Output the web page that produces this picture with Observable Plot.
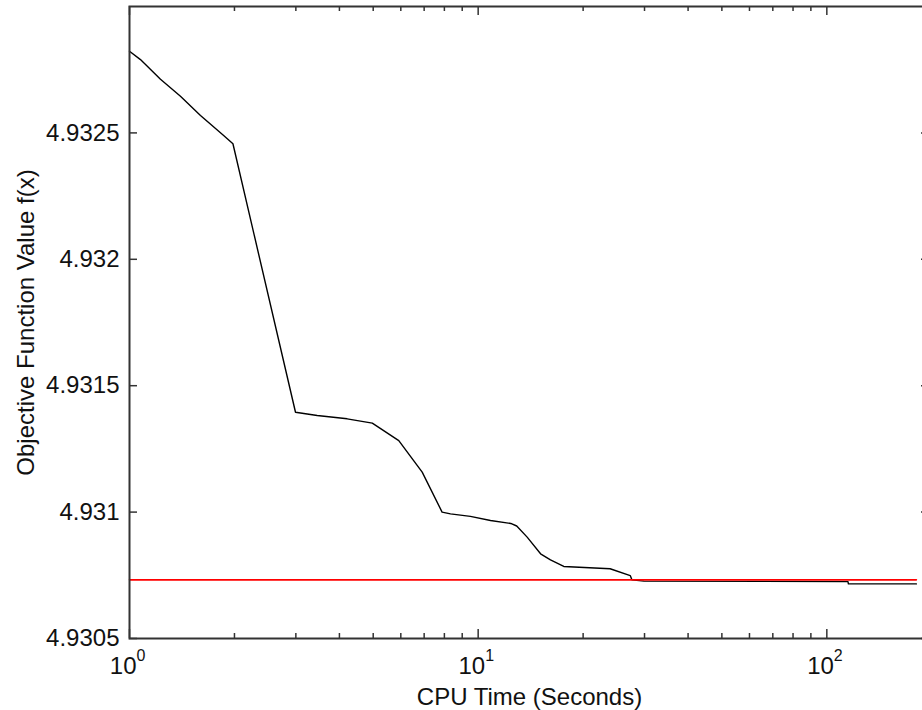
<!DOCTYPE html>
<html><head><meta charset="utf-8">
<script src="https://cdn.jsdelivr.net/npm/d3@7"></script>
<script src="https://cdn.jsdelivr.net/npm/@observablehq/plot@0.6"></script>
<style>
html,body{margin:0;padding:0;background:#fff;overflow:hidden;}
</style></head><body><div id="chart"></div>
<script>
// CPU time (seconds) and objective function value
const cpuTime = [1, 1.075, 1.227, 1.40, 1.598, 1.848, 1.98, 2.993, 3.454, 4.21, 4.97, 5.92, 6.91, 7.88, 8.33, 9.5, 10.85, 12.4, 12.9, 13.82, 15.1, 16.12, 17.6, 23.9, 27.3, 27.6, 29.9, 115, 115.3, 180.7];
const objective = [4.932823, 4.932790, 4.932712, 4.932645, 4.932569, 4.932494, 4.932457, 4.931395, 4.931382, 4.931369, 4.931352, 4.931283, 4.931158, 4.931000, 4.930993, 4.930983, 4.930967, 4.930955, 4.930945, 4.930901, 4.930835, 4.930811, 4.930785, 4.930776, 4.930749, 4.930732, 4.930727, 4.930725, 4.930716, 4.930716];
// reference (red) level
const referenceValue = 4.930732;
const referenceTime = [1, 180.7];
// axes
const xDomain = [1, 197];
const yDomain = [4.9305, 4.933];
const yTicks = [4.9305, 4.931, 4.9315, 4.932, 4.9325];
const xMajorTicks = [1, 10, 100];
const xTickBase = ["10", "10", "10"];
const xTickExponents = ["0", "1", "2"];
const xMinorTicks = [2, 3, 4, 5, 6, 7, 8, 9, 20, 30, 40, 50, 60, 70, 80, 90];
const xLabel = "CPU Time (Seconds)";
const yLabel = "Objective Function Value f(x)";

const W = 922, H = 710;
const mL = 129, mR = -7, mT = 6, mB = 72;
const frameW = W - mL - mR, frameH = H - mT - mB;
const axisColor = "#333";
const textColor = "#111";
const font = "'Liberation Sans', Arial, Helvetica, sans-serif";

const series = cpuTime.map((t, i) => ({t, v: objective[i]}));
const refSeries = referenceTime.map(t => ({t, v: referenceValue}));
const majors = xMajorTicks.map((t, i) => ({t, base: xTickBase[i], exp: xTickExponents[i]}));

const chart = Plot.plot({
  width: W, height: H,
  marginLeft: mL, marginRight: mR, marginTop: mT, marginBottom: mB,
  style: {fontFamily: font, color: "#000", background: "#fff", overflow: "visible"},
  x: {type: "log", domain: xDomain, axis: null},
  y: {domain: yDomain, axis: null},
  marks: [
    Plot.line(series, {x: "t", y: "v", stroke: "#000", strokeWidth: 1.4}),
    Plot.line(refSeries, {x: "t", y: "v", stroke: "#ff0000", strokeWidth: 1.6}),
    // inward ticks: bottom
    Plot.tickX(xMajorTicks, {x: d => d, insetTop: frameH - 9, stroke: axisColor, strokeWidth: 1.5}),
    Plot.tickX(xMinorTicks, {x: d => d, insetTop: frameH - 5, stroke: axisColor, strokeWidth: 1.5}),
    // top
    Plot.tickX(xMajorTicks, {x: d => d, insetBottom: frameH - 9, stroke: axisColor, strokeWidth: 1.5}),
    Plot.tickX(xMinorTicks, {x: d => d, insetBottom: frameH - 5, stroke: axisColor, strokeWidth: 1.5}),
    // left / right
    Plot.tickY(yTicks, {y: d => d, insetRight: frameW - 8, stroke: axisColor, strokeWidth: 1.5}),
    Plot.tickY(yTicks, {y: d => d, insetLeft: frameW - 8, stroke: axisColor, strokeWidth: 1.5}),
    Plot.frame({stroke: axisColor, strokeWidth: 2}),
    // y tick labels
    Plot.text(yTicks, {y: d => d, text: d => String(d), frameAnchor: "left", textAnchor: "end", dx: -10, fontSize: 24, fill: textColor}),
    // x tick labels 10^n
    Plot.text(majors, {x: "t", text: "base", frameAnchor: "bottom", textAnchor: "end", lineAnchor: "bottom", dx: 7, dy: 35, fontSize: 24, fill: textColor}),
    Plot.text(majors, {x: "t", text: "exp", frameAnchor: "bottom", textAnchor: "start", lineAnchor: "bottom", dx: 7, dy: 22, fontSize: 16, fill: textColor}),
    // axis labels
    Plot.text([xLabel], {text: d => d, frameAnchor: "bottom", textAnchor: "middle", lineAnchor: "bottom", dy: 66, fontSize: 24, fill: textColor}),
    Plot.text([yLabel], {text: d => d, frameAnchor: "left", textAnchor: "middle", lineAnchor: "bottom", rotate: -90, dx: -96, fontSize: 24, fill: textColor})
  ]
});
document.getElementById("chart").appendChild(chart);
</script>
</body></html>
